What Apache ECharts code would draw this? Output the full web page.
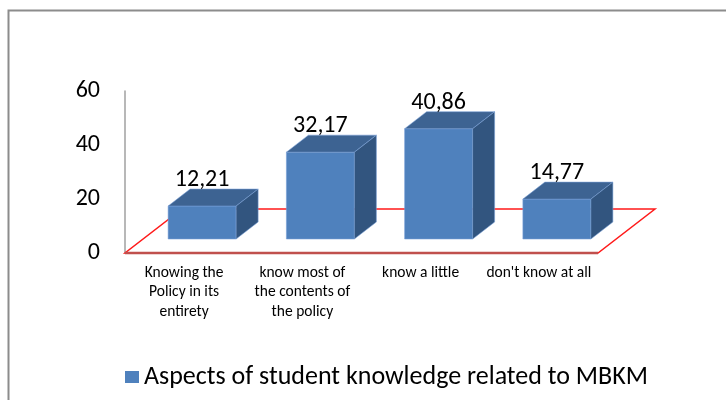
<!DOCTYPE html>
<html lang="en">
<head>
  <meta charset="UTF-8" />
  <title>Aspects of student knowledge related to MBKM</title>
  <script src="https://cdn.jsdelivr.net/npm/echarts@6.0.0/dist/echarts.min.js"></script>
</head>
<body style="margin:0; background:#ffffff;">
  <div id="main" style="width: 726px; height: 400px;"></div>
  <script type="text/javascript">
    // data
    let categories = [
      'Knowing the\nPolicy in its\nentirety',
      'know most of\nthe contents of\nthe policy',
      'know a little',
      "don't know at all"
    ];
    let values = [12.21, 32.17, 40.86, 14.77];
    let valueLabels = ['12,21', '32,17', '40,86', '14,77'];
    let yTicks = [0, 20, 40, 60];
    let seriesName = 'Aspects of student knowledge related to MBKM';

    // colours / fake 3d depth
    let fontFamily = 'Carlito, "Open Sans", sans-serif';
    let frontColor = '#4f81bd';
    let topColor = '#3d6392';
    let sideColor = '#32557f';
    let floorDepth = [57, 44];   // full floor depth (dx, dy)
    let barOffset = [18, 14];    // where bar front face sits in the depth
    let barDepth = [22, 17];     // depth of each bar

    var myChart = echarts.init(document.getElementById('main'));

    // red floor of the 3d plot
    function renderFloor(params, api) {
      var cs = params.coordSys;
      var y0 = api.coord([0, 0])[1];
      var x0 = cs.x, x1 = cs.x + cs.width;
      return {
        type: 'group',
        children: [
          {
            type: 'polygon',
            shape: { points: [[x0, y0], [x1, y0], [x1 + floorDepth[0], y0 - floorDepth[1]], [x0 + floorDepth[0], y0 - floorDepth[1]]] },
            style: { fill: 'none', stroke: '#ff1a1a', lineWidth: 1.5 }
          },
          {
            type: 'line',
            shape: { x1: x0, y1: y0, x2: x1, y2: y0 },
            style: { stroke: '#c0504d', lineWidth: 2.5 }
          }
        ]
      };
    }

    // one box per category
    function renderBar(params, api) {
      var idx = api.value(0);
      var v = api.value(1);
      var top = api.coord([idx, v]);
      var base = api.coord([idx, 0]);
      var band = api.size([1, 0])[0];
      var w = band * 0.575;
      var x0 = top[0] - w / 2 + barOffset[0];
      var x1 = x0 + w;
      var yb = base[1] - barOffset[1];
      var yt = top[1] - barOffset[1];
      var dx = barDepth[0], dy = barDepth[1];
      var edge = { stroke: 'rgba(120,160,215,0.7)', lineWidth: 0.8 };
      return {
        type: 'group',
        children: [
          {
            type: 'polygon',
            shape: { points: [[x0, yt], [x1, yt], [x1, yb], [x0, yb]] },
            style: Object.assign({ fill: frontColor }, edge)
          },
          {
            type: 'polygon',
            shape: { points: [[x0, yt], [x0 + dx, yt - dy], [x1 + dx, yt - dy], [x1, yt]] },
            style: Object.assign({ fill: topColor }, edge)
          },
          {
            type: 'polygon',
            shape: { points: [[x1, yt], [x1 + dx, yt - dy], [x1 + dx, yb - dy], [x1, yb]] },
            style: Object.assign({ fill: sideColor }, edge)
          },
          {
            type: 'text',
            style: {
              text: valueLabels[params.dataIndex],
              x: (x0 + x1) / 2,
              y: yt - 26,
              align: 'center',
              verticalAlign: 'middle',
              fill: '#000',
              fontSize: 24,
              fontFamily: fontFamily
            }
          }
        ]
      };
    }

    myChart.setOption({
      animation: false,
      backgroundColor: '#ffffff',
      textStyle: { fontFamily: fontFamily },
      graphic: [
        {
          type: 'polyline',
          shape: { points: [[8.5, 400], [8.5, 10.5], [726, 10.5]] },
          style: { fill: 'none', stroke: '#8c8c8c', lineWidth: 2 }
        }
      ],
      legend: {
        data: [seriesName],
        left: 120,
        top: 359,
        icon: 'rect',
        itemWidth: 14,
        itemHeight: 12,
        itemGap: 8,
        textStyle: { fontSize: 26, color: '#000', fontFamily: fontFamily }
      },
      grid: {
        left: 125,
        right: 128,
        top: 91,
        bottom: 147,
        containLabel: false
      },
      xAxis: {
        type: 'category',
        data: categories,
        axisLine: { show: false },
        axisTick: { show: false },
        axisLabel: {
          interval: 0,
          margin: 10,
          color: '#000',
          fontSize: 15.5,
          lineHeight: 19.5,
          fontFamily: fontFamily
        }
      },
      yAxis: {
        type: 'value',
        min: yTicks[0],
        max: yTicks[yTicks.length - 1],
        interval: 20,
        axisLine: { show: true, lineStyle: { color: '#a0a0a0', width: 1.5 } },
        axisTick: { show: false },
        splitLine: { show: false },
        axisLabel: {
          margin: 25,
          color: '#000',
          fontSize: 24,
          fontFamily: fontFamily
        }
      },
      series: [
        {
          name: 'floor',
          type: 'custom',
          renderItem: renderFloor,
          data: [[0, 0]],
          clip: false,
          silent: true,
          z: 1
        },
        {
          name: seriesName,
          type: 'custom',
          renderItem: renderBar,
          itemStyle: { color: frontColor },
          encode: { x: 0, y: 1 },
          data: values.map(function (v, i) { return [i, v]; }),
          clip: false,
          z: 2
        }
      ]
    });
  </script>
</body>
</html>
